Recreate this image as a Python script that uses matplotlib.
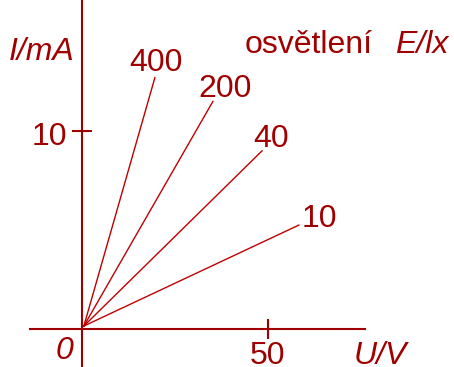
import matplotlib
matplotlib.use("Agg")
import matplotlib.pyplot as plt

# photocurrent vs voltage for several illuminances
osvetleni = ["400", "200", "40", "10"]
U_end = [19.6, 35.2, 48.4, 58.3]
I_end = [12.7, 11.5, 9.0, 5.25]
label_u = [19.9, 38.4, 50.8, 63.7]
label_i = [13.43, 12.12, 9.6, 5.56]

col_axis = "#a00000"
col_line = "#c00000"
fs = 23
plt.rcParams['font.family'] = ['Liberation Sans', 'DejaVu Sans']

fig = plt.figure(figsize=(4.54, 3.67), dpi=100)
ax = fig.add_axes([0, 0, 1, 1])
ax.set_xlim(-22.04, 100)
ax.set_ylim(-1.92, 16.62)

for name, u, i, lu, li in zip(osvetleni, U_end, I_end, label_u, label_i):
    ax.plot([0.5, u], [0.15, i], color=col_line, lw=1.0)
    ax.text(lu, li, name, color=col_axis, fontsize=fs, ha="center", va="center")

# axes as crossing lines
for s in ["top", "right"]:
    ax.spines[s].set_visible(False)
ax.spines["left"].set_position(("data", 0))
ax.spines["bottom"].set_position(("data", 0))
ax.spines["left"].set_color(col_axis)
ax.spines["bottom"].set_color(col_axis)
ax.spines["left"].set_linewidth(1.5)
ax.spines["bottom"].set_linewidth(1.5)
ax.spines["bottom"].set_bounds(-14, 76)
ax.set_xticks([50])
ax.set_xticklabels([])
ax.set_yticks([10])
ax.set_yticklabels([])
ax.tick_params(direction="inout", length=14, width=1.5, color=col_axis)

ax.text(-8.8, 9.7, "10", color=col_axis, fontsize=fs, ha="center", va="center")
ax.text(50, -1.35, "50", color=col_axis, fontsize=fs, ha="center", va="center")
ax.text(-4.84, -1.11, "0", color=col_axis, fontsize=fs, ha="center", va="center", style="italic")
ax.text(80.1, -1.35, "U/V", color=col_axis, fontsize=fs, ha="center", va="center", style="italic")
ax.text(-10.75, 14.0, "I/mA", color=col_axis, fontsize=fs, ha="center", va="center", style="italic")
ax.text(43.8, 14.35, "osvětlení", color=col_axis, fontsize=fs, ha="left", va="center")
ax.text(84.1, 14.35, "E/lx", color=col_axis, fontsize=fs, ha="left", va="center", style="italic")

fig.savefig("out.png", dpi=100)
